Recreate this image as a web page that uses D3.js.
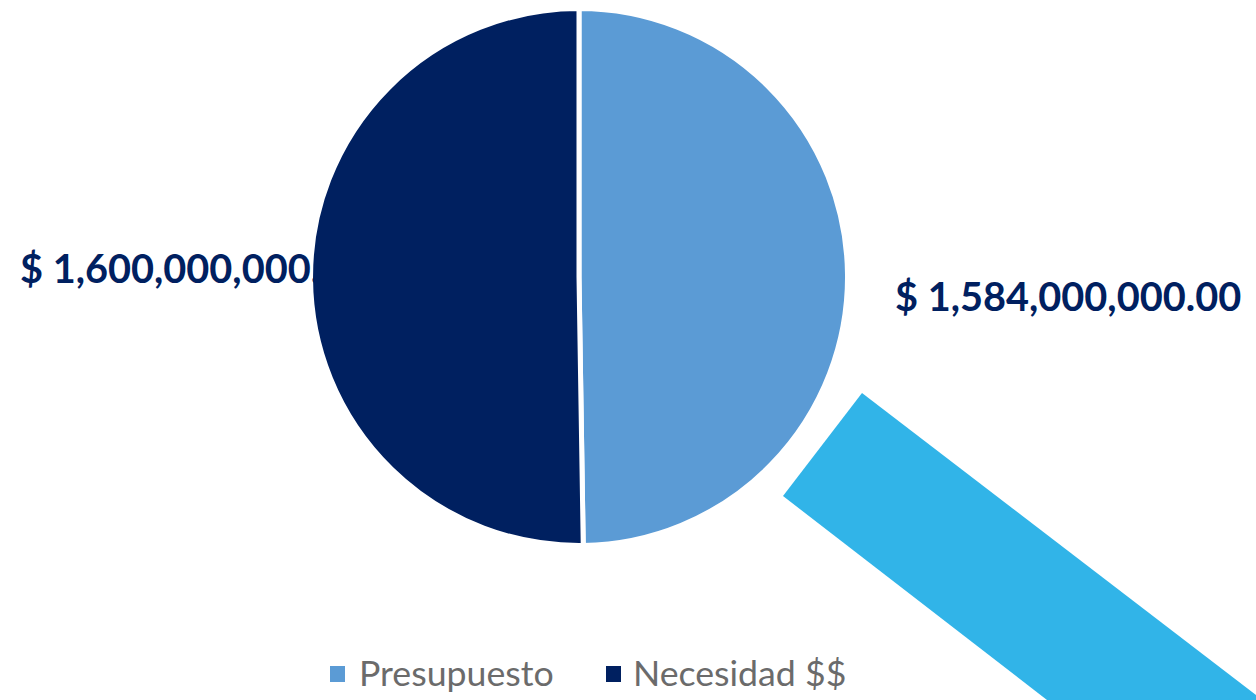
<!DOCTYPE html>
<html><head><meta charset="utf-8">
<script src="https://cdn.jsdelivr.net/npm/d3@7"></script>
<style>html,body{margin:0;padding:0;background:#fff;overflow:hidden}svg{display:block}</style>
</head><body><svg id="c" width="1256" height="700"></svg>
<script>
const categories = ["Presupuesto", "Necesidad $$"];
const values = [1584000000, 1600000000];
const labels = ["$ 1,584,000,000.00", "$ 1,600,000,000.00"];
const colors = ["#5B9BD5", "#002060"];

const svg = d3.select("#c");
const cx = 579, cy = 277, R = 268.5;

// pie
const pie = d3.pie().sort(null).value(d => d);
const arc = d3.arc().innerRadius(0).outerRadius(R);
const arcs = pie(values);

svg.append("g").attr("transform",`translate(${cx},${cy})`)
  .selectAll("path").data(arcs).join("path")
  .attr("d",arc).attr("fill",(d,i)=>colors[i])
  .attr("stroke","#fff").attr("stroke-width",5).attr("stroke-linejoin","round");

// labels: same navy as the dark slice, so the left label's tail vanishes into it
const font = "Lato, 'Open Sans', sans-serif";
const labelPos = [[895, 311], [20, 283]];
svg.selectAll("text.lab").data(labels).join("text").attr("class","lab")
  .attr("x",(d,i)=>labelPos[i][0]).attr("y",(d,i)=>labelPos[i][1])
  .attr("font-family",font).attr("font-weight",700).attr("font-size",39.7)
  .attr("fill","#002060").text(d=>d);

// decorative band (not data)
svg.append("polygon")
  .attr("points","862,393 783,496 1047,700 1256,700 1256,695")
  .attr("fill","#31B4E8");

// legend
const legendX = [330, 606], textX = [359, 633];
svg.selectAll("rect.lg").data(categories).join("rect").attr("class","lg")
  .attr("x",(d,i)=>legendX[i]).attr("y",666).attr("width",15).attr("height",16)
  .attr("fill",(d,i)=>colors[i]);
svg.selectAll("text.lgt").data(categories).join("text").attr("class","lgt")
  .attr("x",(d,i)=>textX[i]).attr("y",686)
  .attr("font-family",font).attr("font-size",35.7).attr("fill","#6b6b6b").text(d=>d);
</script></body></html>
